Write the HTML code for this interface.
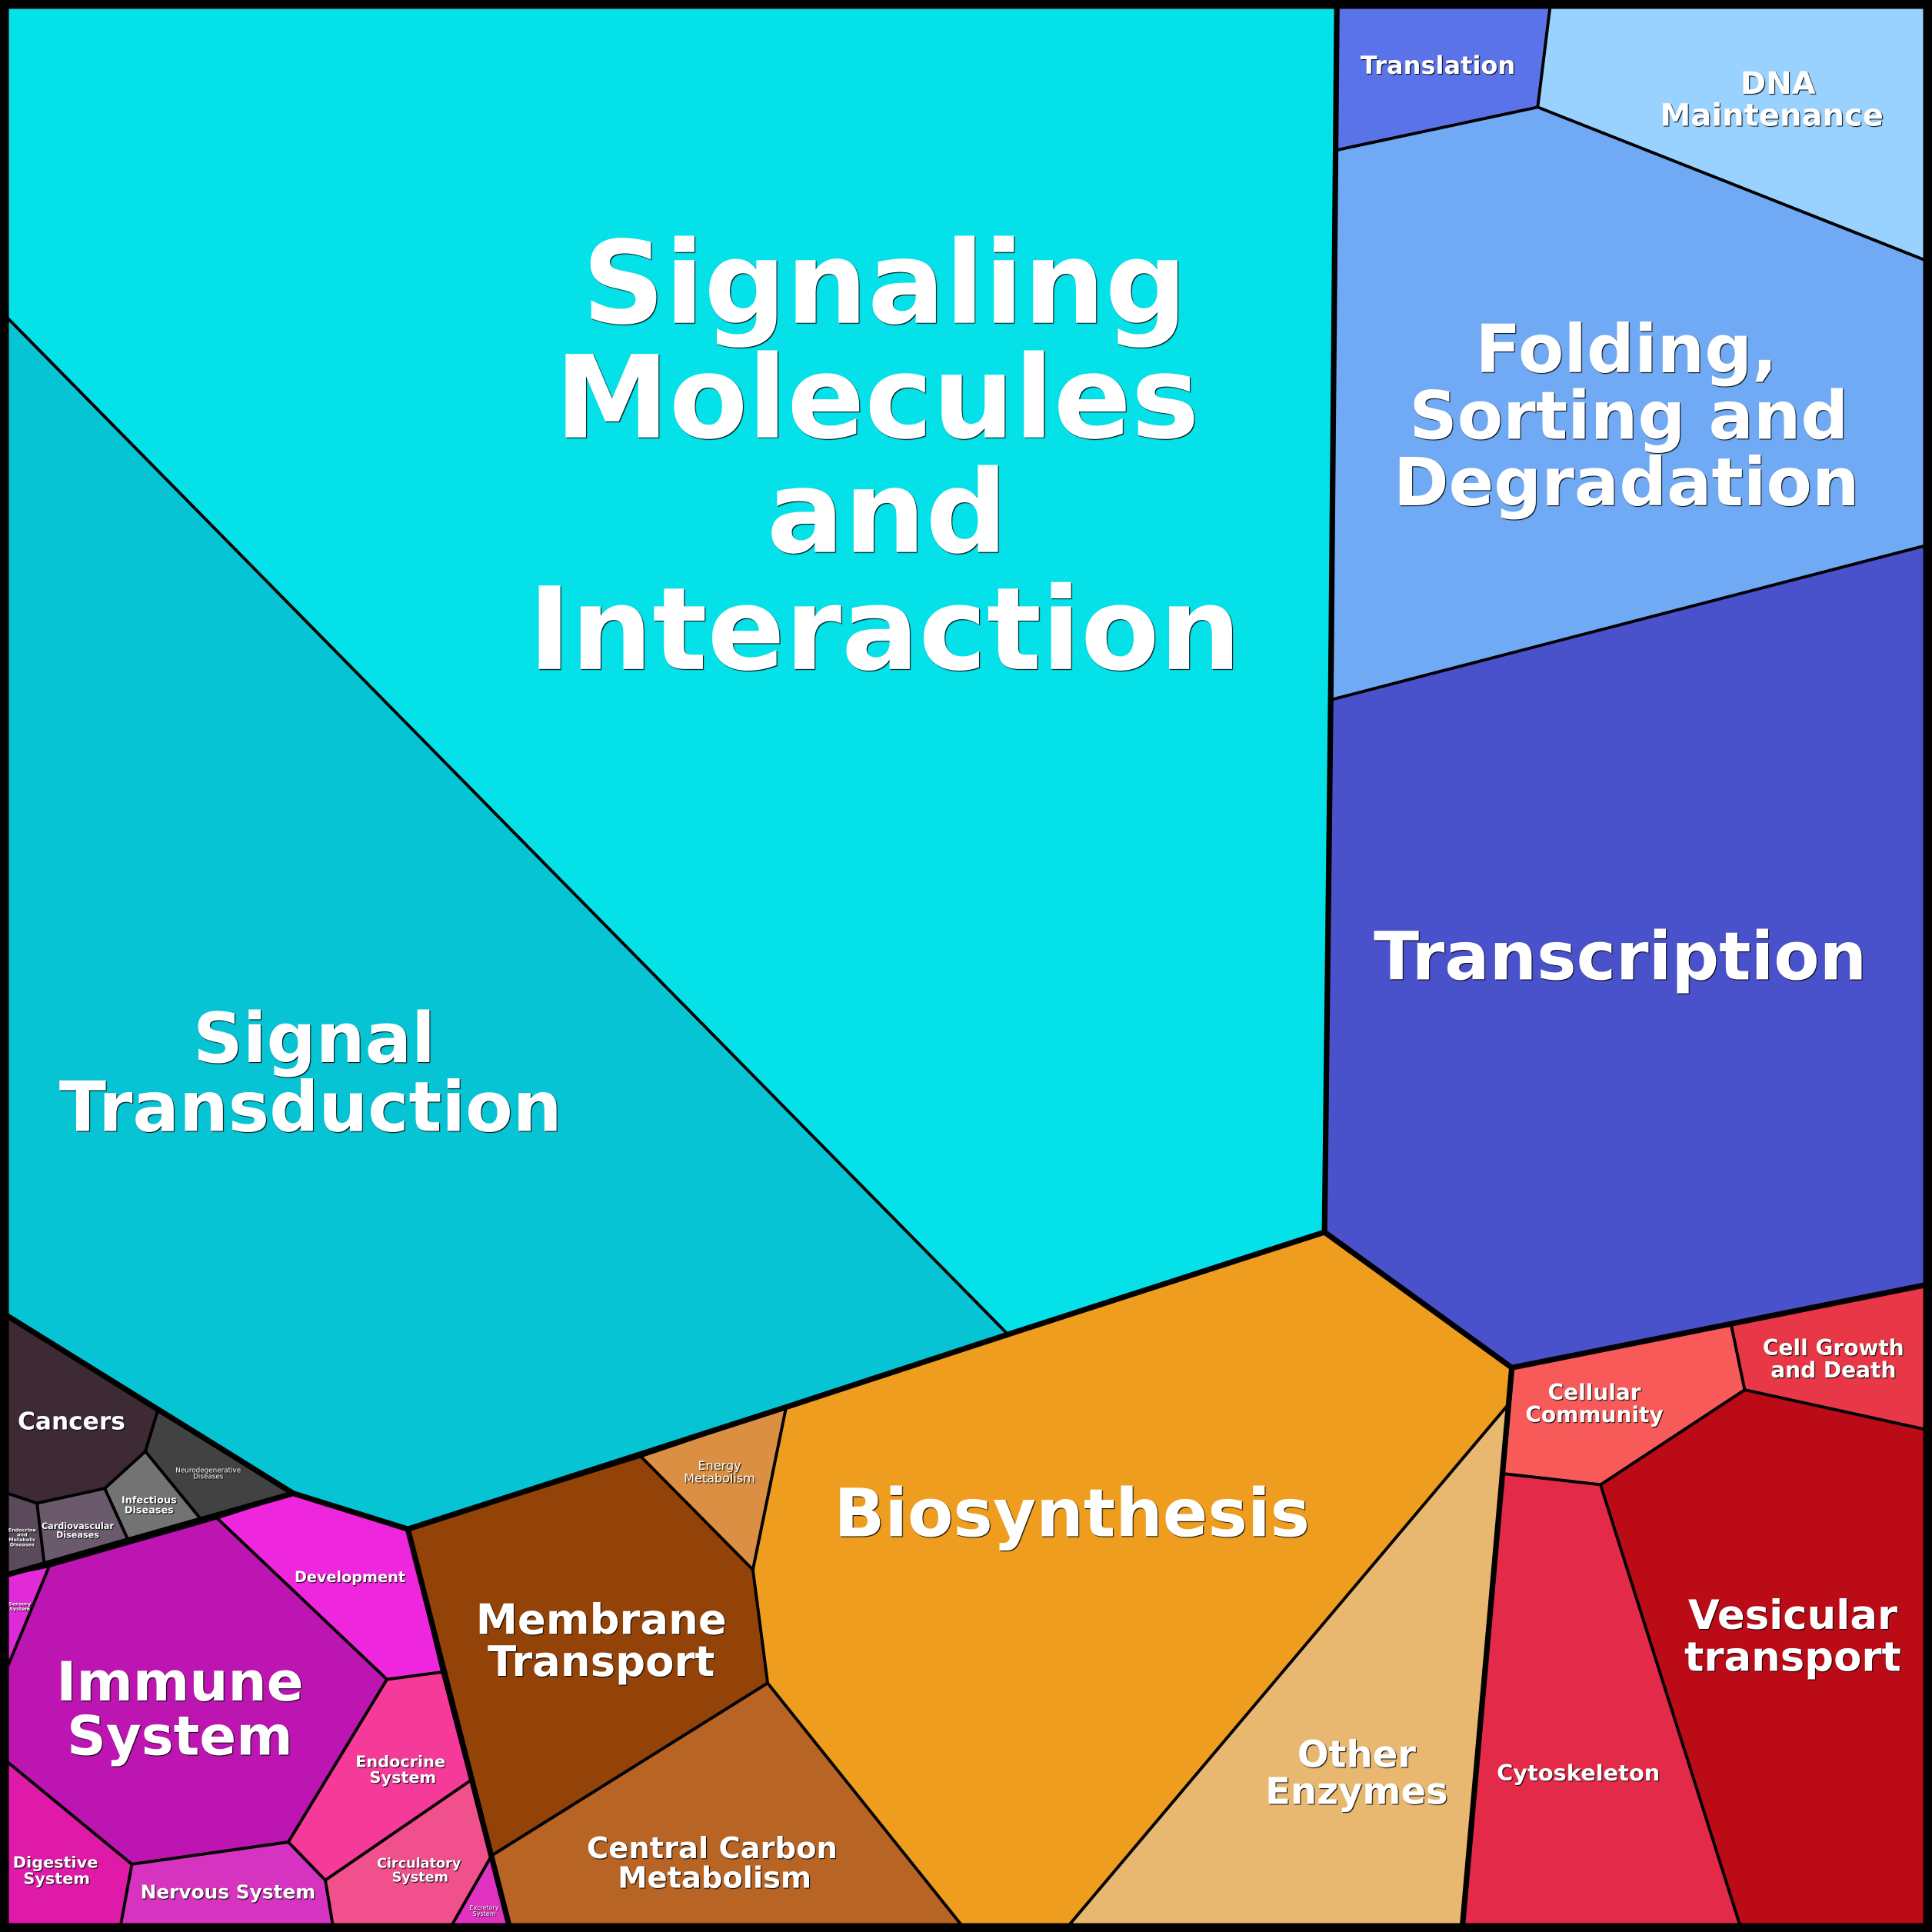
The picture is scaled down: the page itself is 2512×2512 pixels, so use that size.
<!DOCTYPE html>
<html><head><meta charset="utf-8"><style>
html,body{margin:0;padding:0;background:#000}
svg{display:block}
text{font-family:"DejaVu Sans","Liberation Sans",sans-serif;font-weight:bold;fill:#fff;text-anchor:middle;text-shadow:1px 1px 1px #000}
polygon{stroke:#000;stroke-width:2.4;stroke-linejoin:round}
.t{fill:none;stroke:#000;stroke-width:4.5;stroke-linejoin:round;stroke-linecap:round}
</style></head><body>
<svg width="2512" height="2512" viewBox="0 0 1568 1568" xmlns="http://www.w3.org/2000/svg">
<rect width="1568" height="1568" fill="#000"/>
<polygon fill="#05e1e8" points="6,6 1085,6 1080,568 1075,1000 818,1083 6,258"/>
<polygon fill="#06c4d4" points="6,258 818,1083 638,1142 331,1241 238,1212 6,1068"/>
<polygon fill="#5b73e8" points="1085,6 1258,6 1248,87 1084,122"/>
<polygon fill="#99d1ff" points="1258,6 1562,6 1562,211 1248,87"/>
<polygon fill="#70a9f4" points="1084,122 1248,87 1562,211 1562,443 1080,568"/>
<polygon fill="#4a52cb" points="1080,568 1562,443 1562,1043 1227,1110 1075,1000"/>
<polygon fill="#ee9d1e" points="1075,1000 1227,1110 1224,1140 868,1562 780,1562 623,1366 611,1274 638,1142 818,1083"/>
<polygon fill="#da8f42" points="638,1142 611,1274 520,1182"/>
<polygon fill="#934308" points="331,1241 520,1182 611,1274 623,1366 399,1506"/>
<polygon fill="#b86424" points="399,1506 623,1366 780,1562 413,1562"/>
<polygon fill="#e8b870" points="1224,1140 1187,1562 868,1562"/>
<polygon fill="#f85a5a" points="1227,1110 1405,1075 1416,1128 1299,1205 1220,1196"/>
<polygon fill="#e83848" points="1405,1075 1562,1043 1562,1160 1416,1128"/>
<polygon fill="#e32a48" points="1220,1196 1299,1205 1412,1562 1187,1562"/>
<polygon fill="#bb0b16" points="1299,1205 1416,1128 1562,1160 1562,1562 1412,1562"/>
<polygon fill="#3e2a35" points="6,1068 128,1145 118,1178 85,1208 30,1220 6,1212"/>
<polygon fill="#424242" points="128,1145 238,1212 163,1233 118,1178"/>
<polygon fill="#737373" points="118,1178 163,1233 104,1250 85,1208"/>
<polygon fill="#6a5a6c" points="30,1220 85,1208 104,1250 36,1270"/>
<polygon fill="#5a4a5c" points="6,1212 30,1220 36,1270 6,1278"/>
<polygon fill="#ee26dd" points="238,1212 331,1241 359,1357 314,1363 176,1232"/>
<polygon fill="#bd15b2" points="40,1271 176,1232 314,1363 234,1495 107,1513 6,1430 6,1353"/>
<polygon fill="#e02ad8" points="6,1278 40,1271 6,1353"/>
<polygon fill="#f53a9a" points="314,1363 359,1357 382,1445 264,1526 234,1495"/>
<polygon fill="#f0508c" points="264,1526 382,1445 399,1506 367,1562 270,1562"/>
<polygon fill="#e034c0" points="399,1506 413,1562 367,1562"/>
<polygon fill="#d634c0" points="107,1513 234,1495 264,1526 270,1562 98,1562"/>
<polygon fill="#e01aa8" points="6,1430 107,1513 98,1562 6,1562"/>
<polyline class="t" points="1085,6 1080,568 1075,1000 1227,1110 1562,1043"/>
<polyline class="t" points="1075,1000 818,1083 638,1142 331,1241 238,1212 6,1068"/>
<polyline class="t" points="1227,1110 1187,1562"/>
<polyline class="t" points="331,1241 413,1562"/>
<polyline class="t" points="6,1278 238,1212"/>
<rect x="3" y="3" width="1562" height="1562" fill="none" stroke="#000" stroke-width="7"/>

<g style="font-size:93px;text-shadow:2px 2px 1px #000">
<text x="718" y="262">Signaling</text>
<text x="712" y="355">Molecules</text>
<text x="720" y="448">and</text>
<text x="718" y="543">Interaction</text>
</g>
<g style="font-size:56px;text-shadow:2px 2px 1px #000">
<text x="255" y="862">Signal</text>
<text x="252" y="918">Transduction</text>
</g>
<g style="font-size:54px;text-shadow:2px 2px 1px #000">
<text x="1320" y="302">Folding,</text>
<text x="1322" y="356">Sorting and</text>
<text x="1320" y="410">Degradation</text>
</g>
<text x="1315" y="795" style="font-size:54px">Transcription</text>
<text x="870" y="1247" style="font-size:54px">Biosynthesis</text>
<text x="488" y="1326" style="font-size:34px">Membrane</text>
<text x="488" y="1360" style="font-size:34px">Transport</text>
<text x="578" y="1508" style="font-size:24px">Central Carbon</text>
<text x="580" y="1532" style="font-size:24px">Metabolism</text>
<text x="1101" y="1434" style="font-size:30px">Other</text>
<text x="1101" y="1464" style="font-size:30px">Enzymes</text>
<text x="1455" y="1322" style="font-size:33px">Vesicular</text>
<text x="1455" y="1356" style="font-size:33px">transport</text>
<text x="1281" y="1445" style="font-size:18px">Cytoskeleton</text>
<text x="1294" y="1136" style="font-size:17.5px">Cellular</text>
<text x="1294" y="1154" style="font-size:17.5px">Community</text>
<text x="1488" y="1100" style="font-size:17.5px">Cell Growth</text>
<text x="1488" y="1118" style="font-size:17.5px">and Death</text>
<text x="1167" y="60" style="font-size:20px">Translation</text>
<text x="1443" y="76" style="font-size:25px">DNA</text>
<text x="1438" y="102" style="font-size:25px">Maintenance</text>
<text x="58" y="1160" style="font-size:19.5px">Cancers</text>
<text x="146" y="1380" style="font-size:44px">Immune</text>
<text x="146" y="1424" style="font-size:44px">System</text>
<text x="284" y="1284" style="font-size:12px">Development</text>
<text x="325" y="1434" style="font-size:13px">Endocrine</text>
<text x="327" y="1447" style="font-size:13px">System</text>
<text x="340" y="1516" style="font-size:11px">Circulatory</text>
<text x="341" y="1527" style="font-size:11px">System</text>
<text x="45" y="1516" style="font-size:13px">Digestive</text>
<text x="46" y="1529" style="font-size:13px">System</text>
<text x="185" y="1541" style="font-size:15.5px">Nervous System</text>
<text x="584" y="1193" style="font-size:10px;font-weight:normal">Energy</text>
<text x="584" y="1203" style="font-size:10px;font-weight:normal">Metabolism</text>
<text x="121" y="1220" style="font-size:8px">Infectious</text>
<text x="121" y="1228" style="font-size:8px">Diseases</text>
<text x="63" y="1241" style="font-size:7px">Cardiovascular</text>
<text x="63" y="1248" style="font-size:7px">Diseases</text>
<text x="169" y="1195" style="font-size:5.5px;font-weight:normal">Neurodegenerative</text>
<text x="169" y="1200" style="font-size:5.5px;font-weight:normal">Diseases</text>
<text x="18" y="1243" style="font-size:4px">Endocrine</text>
<text x="18" y="1247" style="font-size:4px">and</text>
<text x="18" y="1251" style="font-size:4px">Metabolic</text>
<text x="18" y="1255" style="font-size:4px">Diseases</text>
<text x="16" y="1303" style="font-size:4px">Sensory</text>
<text x="16" y="1307" style="font-size:4px">System</text>
<text x="393" y="1550" style="font-size:5px;font-weight:normal">Excretory</text>
<text x="393" y="1555" style="font-size:5px;font-weight:normal">System</text>
</svg>
</body></html>
